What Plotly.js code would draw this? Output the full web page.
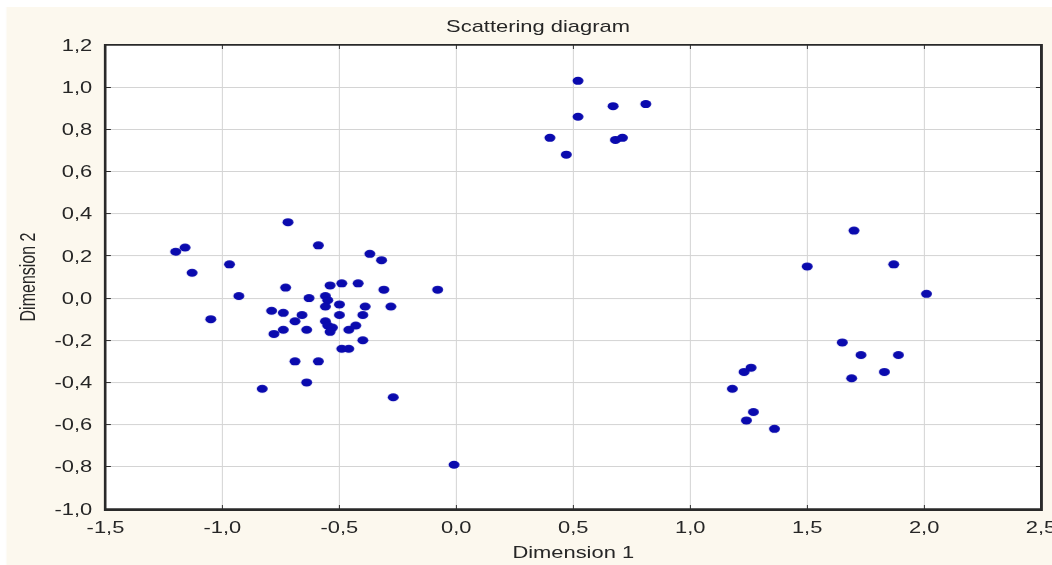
<!DOCTYPE html>
<html><head><meta charset="utf-8">
<script src="https://cdn.plot.ly/plotly-3.0.1.min.js"></script>
<style>
html,body{margin:0;padding:0;width:1052px;height:565px;overflow:hidden;background:#fff;}
#chart{width:768px;height:565px;transform:scaleX(1.36979);transform-origin:0 0;}
#chart .main-svg{overflow:visible;}
</style></head><body><div id="chart"></div>
<script>
const dimension1 = [
  0.52, 0.67, 0.81, 0.52, 0.40, 0.68, 0.71, 0.47,
  1.70, 1.50, 1.87, 2.01, 1.65, 1.73, 1.89, 1.69, 1.83, 1.26, 1.23, 1.18, 1.27, 1.24, 1.36,
  -1.20, -1.16, -1.13, -0.72, -0.59, -0.97, -0.93, -1.05, -0.83, -0.64, -0.69, -0.59,
  -0.37, -0.32, -0.73, -0.54, -0.49, -0.42, -0.31, -0.08, -0.63, -0.56, -0.55, -0.56,
  -0.50, -0.39, -0.40, -0.28, -0.79, -0.74, -0.69, -0.66, -0.50, -0.56, -0.55, -0.53,
  -0.54, -0.64, -0.74, -0.78, -0.46, -0.43, -0.40, -0.49, -0.46, -0.27, -0.01
];
const dimension2 = [
  1.03, 0.91, 0.92, 0.86, 0.76, 0.75, 0.76, 0.68,
  0.32, 0.15, 0.16, 0.02, -0.21, -0.27, -0.27, -0.38, -0.35, -0.33, -0.35, -0.43, -0.54, -0.58, -0.62,
  0.22, 0.24, 0.12, 0.36, 0.25, 0.16, 0.01, -0.10, -0.43, -0.40, -0.30, -0.30,
  0.21, 0.18, 0.05, 0.06, 0.07, 0.07, 0.04, 0.04, 0.00, 0.01, -0.01, -0.04,
  -0.03, -0.04, -0.08, -0.04, -0.06, -0.07, -0.11, -0.08, -0.08, -0.11, -0.13, -0.14,
  -0.16, -0.15, -0.15, -0.17, -0.15, -0.13, -0.20, -0.24, -0.24, -0.47, -0.79
];
const xTickVals = [-1.5, -1.0, -0.5, 0.0, 0.5, 1.0, 1.5, 2.0, 2.5];
const xTickText = ['-1,5', '-1,0', '-0,5', '0,0', '0,5', '1,0', '1,5', '2,0', '2,5'];
const yTickVals = [-1.0, -0.8, -0.6, -0.4, -0.2, 0.0, 0.2, 0.4, 0.6, 0.8, 1.0, 1.2];
const yTickText = ['-1,0', '-0,8', '-0,6', '-0,4', '-0,2', '0,0', '0,2', '0,4', '0,6', '0,8', '1,0', '1,2'];
const chartTitle = 'Scattering diagram';
const xTitle = 'Dimension 1';
const yTitle = 'Dimension 2';

const font = {family: '"Liberation Sans", Arial, sans-serif', size: 16, color: '#262626'};

const trace = {
  type: 'scatter', mode: 'markers',
  x: dimension1, y: dimension2,
  marker: {color: '#0a0aae', size: 8, line: {width: 0}},
  hoverinfo: 'x+y', cliponaxis: false
};

const axisCommon = {
  showgrid: true, gridcolor: '#d4d4d4', gridwidth: 1,
  zeroline: false, showline: true, linecolor: '#2a2a2a', linewidth: 1.5,
  mirror: 'ticks', ticks: 'inside', ticklen: 4, tickcolor: '#2a2a2a', tickwidth: 1,
  tickfont: font, automargin: false, fixedrange: true, ticklabeloverflow: 'allow'
};

const layout = {
  width: 768, height: 565,
  margin: {l: 77, r: 8, t: 45, b: 56, pad: 0},
  paper_bgcolor: '#fcf8ee', plot_bgcolor: '#ffffff',
  font: font,
  showlegend: false,
  title: {text: chartTitle, font: {family: font.family, size: 16, color: '#262626'},
          xref: 'container', x: 0.5114, xanchor: 'center',
          yref: 'container', y: 1 - 26 / 565, yanchor: 'middle'},
  xaxis: Object.assign({}, axisCommon, {
    range: [-1.5, 2.5], tickmode: 'array', tickvals: xTickVals, ticktext: xTickText,
    ticklabelstandoff: 3,
    title: {text: xTitle, font: font, standoff: 12}
  }),
  yaxis: Object.assign({}, axisCommon, {
    range: [-1.0, 1.2], tickmode: 'array', tickvals: yTickVals, ticktext: yTickText,
    ticklabelstandoff: 5,
    title: {text: yTitle, font: font, standoff: 9}
  }),
  shapes: [
    {type: 'rect', xref: 'paper', yref: 'paper', x0: -0.2, x1: 1.1, y0: 1.0819, y1: 1.2,
     fillcolor: '#ffffff', line: {width: 0}, layer: 'below'},
    {type: 'rect', xref: 'paper', yref: 'paper', x0: -0.2, x1: -0.1059, y0: -0.2, y1: 1.2,
     fillcolor: '#ffffff', line: {width: 0}, layer: 'below'},
    {type: 'rect', xref: 'paper', yref: 'paper', x0: 0, x1: 1, y0: 0, y1: 1,
     line: {color: '#2a2a2a', width: 1.5}, fillcolor: 'rgba(0,0,0,0)', layer: 'above'}
  ]
};

Plotly.newPlot('chart', [trace], layout, {displayModeBar: false, staticPlot: true});
</script>
</body></html>
